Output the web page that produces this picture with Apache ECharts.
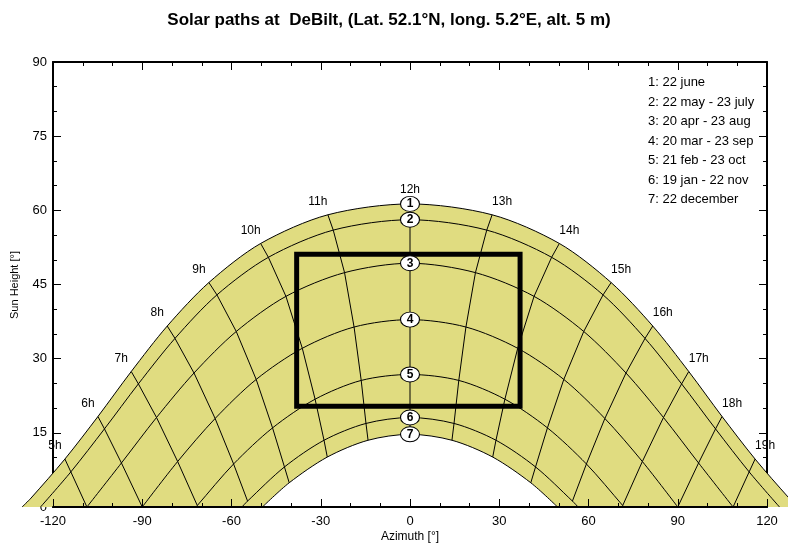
<!DOCTYPE html>
<html><head><meta charset="utf-8">
<script src="https://cdn.jsdelivr.net/npm/echarts@6/dist/echarts.min.js"></script>
<style>html,body{margin:0;padding:0;background:#fff}#c{width:788px;height:547px}</style>
</head><body><div id="c"></div>
<script>
// ---------- data (azimuth [°], sun height [°]) ----------
const titleText = 'Solar paths at  DeBilt, (Lat. 52.1°N, long. 5.2°E, alt. 5 m)';
const legendLines = ['1: 22 june','2: 22 may - 23 july','3: 20 apr - 23 aug','4: 20 mar - 23 sep','5: 21 feb - 23 oct','6: 19 jan - 22 nov','7: 22 december'];

const day1 = [[-130.4,0],[-127.4,1.8],[-116.0,9.7],[-104.9,18.3],[-93.7,27.4],[-81.6,36.6],[-67.6,45.4],[-50.2,53.3],[-27.6,59.1],[0,61.3],[27.6,59.1],[50.2,53.3],[67.6,45.4],[81.6,36.6],[93.7,27.4],[104.9,18.3],[116.0,9.7],[127.4,1.8],[130.4,0]];
const day2 = [[-124.2,0],[-114.0,7.1],[-102.7,15.8],[-91.3,24.9],[-79.0,34.1],[-64.9,42.9],[-47.6,50.5],[-25.8,56.0],[0,58.1],[25.8,56.0],[47.6,50.5],[64.9,42.9],[79.0,34.1],[91.3,24.9],[102.7,15.8],[114.0,7.1],[124.2,0]];
const day3 = [[-108.6,0],[-97.0,8.9],[-85.2,18.1],[-72.6,27.1],[-58.4,35.5],[-41.7,42.6],[-22.0,47.4],[0,49.3],[22.0,47.4],[41.7,42.6],[58.4,35.5],[72.6,27.1],[85.2,18.1],[97.0,8.9],[108.6,0]];
const day4 = [[-90,0],[-78.1,9.2],[-65.5,17.9],[-51.7,25.8],[-36.2,32.1],[-18.8,36.4],[0,37.9],[18.8,36.4],[36.2,32.1],[51.7,25.8],[65.5,17.9],[78.1,9.2],[90,0]];
const day5 = [[-71.9,0],[-71.5,0.3],[-59.3,8.7],[-46.2,16.0],[-31.9,21.8],[-16.4,25.6],[0,26.8],[16.4,25.6],[31.9,21.8],[46.2,16.0],[59.3,8.7],[71.5,0.3],[71.9,0]];
const day6 = [[-56.5,0],[-54.6,1.2],[-42.2,8.1],[-28.9,13.5],[-14.8,16.9],[0,18.1],[14.8,16.9],[28.9,13.5],[42.2,8.1],[54.6,1.2],[56.5,0]];
const day7 = [[-49.6,0],[-40.6,4.9],[-27.8,10.1],[-14.1,13.5],[0,14.7],[14.1,13.5],[27.8,10.1],[40.6,4.9],[49.6,0]];

const hourLabels = ['5h','6h','7h','8h','9h','10h','11h','12h','13h','14h','15h','16h','17h','18h','19h'];
const h5  = [[-116.0,9.7],[-114.0,7.1],[-108.6,0]];
const h6  = [[-104.9,18.3],[-102.7,15.8],[-97.0,8.9],[-90,0]];
const h7  = [[-93.7,27.4],[-91.3,24.9],[-85.2,18.1],[-78.1,9.2],[-71.5,0.3]];
const h8  = [[-81.6,36.6],[-79.0,34.1],[-72.6,27.1],[-65.5,17.9],[-59.3,8.7],[-54.6,1.2]];
const h9  = [[-67.6,45.4],[-64.9,42.9],[-58.4,35.5],[-51.7,25.8],[-46.2,16.0],[-42.2,8.1],[-40.6,4.9]];
const h10 = [[-50.2,53.3],[-47.6,50.5],[-41.7,42.6],[-36.2,32.1],[-31.9,21.8],[-28.9,13.5],[-27.8,10.1]];
const h11 = [[-27.6,59.1],[-25.8,56.0],[-22.0,47.4],[-18.8,36.4],[-16.4,25.6],[-14.8,16.9],[-14.1,13.5]];
const h12 = [[0,61.3],[0,58.1],[0,49.3],[0,37.9],[0,26.8],[0,18.1],[0,14.7]];
const h13 = [[27.6,59.1],[25.8,56.0],[22.0,47.4],[18.8,36.4],[16.4,25.6],[14.8,16.9],[14.1,13.5]];
const h14 = [[50.2,53.3],[47.6,50.5],[41.7,42.6],[36.2,32.1],[31.9,21.8],[28.9,13.5],[27.8,10.1]];
const h15 = [[67.6,45.4],[64.9,42.9],[58.4,35.5],[51.7,25.8],[46.2,16.0],[42.2,8.1],[40.6,4.9]];
const h16 = [[81.6,36.6],[79.0,34.1],[72.6,27.1],[65.5,17.9],[59.3,8.7],[54.6,1.2]];
const h17 = [[93.7,27.4],[91.3,24.9],[85.2,18.1],[78.1,9.2],[71.5,0.3]];
const h18 = [[104.9,18.3],[102.7,15.8],[97.0,8.9],[90,0]];
const h19 = [[116.0,9.7],[114.0,7.1],[108.6,0]];

const dayNumbers = ['1','2','3','4','5','6','7'];
const noonAlt = [61.3,58.1,49.3,37.9,26.8,18.1,14.7];

const boxAz = [-38.1, 37.0];
const boxAlt = [20.4, 51.1];

// ---------- chart ----------
const days = [day1,day2,day3,day4,day5,day6,day7];
const hours = [h5,h6,h7,h8,h9,h10,h11,h12,h13,h14,h15,h16,h17,h18,h19];
const FONT = 'Arial, "Liberation Sans", sans-serif';
const YELLOW = '#e0dc80';
const SM = 0.3;
const D = {xAxisIndex:2, yAxisIndex:2};

const series = [];
series.push(Object.assign({type:'line', data:day1, symbol:'none', silent:true, z:1, smooth:SM,
  lineStyle:{width:0}, areaStyle:{color:YELLOW, opacity:1}}, D));
series.push(Object.assign({type:'line', data:day7, symbol:'none', silent:true, z:2, smooth:SM,
  lineStyle:{width:0}, areaStyle:{color:'#ffffff', opacity:1}}, D));
days.forEach(d => series.push(Object.assign({type:'line', data:d, symbol:'none', silent:true, z:3, smooth:SM,
  lineStyle:{color:'#000', width:1}}, D)));
hours.forEach(h => series.push(Object.assign({type:'line', data:h, symbol:'none', silent:true, z:3,
  lineStyle:{color:'#000', width:1}}, D)));
// box
series.push(Object.assign({type:'line', silent:true, symbol:'none', z:4,
  data:[[boxAz[0],boxAlt[0]],[boxAz[1],boxAlt[0]],[boxAz[1],boxAlt[1]],[boxAz[0],boxAlt[1]],[boxAz[0],boxAlt[0]]],
  lineStyle:{color:'#000', width:5, join:'miter', cap:'square'}}, D));
// hour labels
series.push(Object.assign({type:'scatter', silent:true, z:5, symbolSize:0,
  itemStyle:{color:'#000'},
  data: hours.map((h,i) => ({value:h[0], label:{
    show:true, formatter:hourLabels[i], position:'top', distance:0,
    offset:[h[0][0] < 0 ? -10 : (h[0][0] > 0 ? 10 : 0), h[0][0] === 0 ? -8 : -7],
    color:'#000', opacity:1, fontSize:12, fontFamily:FONT, textBorderWidth:0}}))}, D));
// noon circles
series.push(Object.assign({type:'scatter', silent:true, z:6, symbol:'circle', symbolSize:[19,15],
  itemStyle:{color:'#fff', borderColor:'#000', borderWidth:1, opacity:1},
  label:{show:true, position:'inside', color:'#000', fontSize:12, fontWeight:'bold', fontFamily:FONT,
    formatter: p => dayNumbers[p.dataIndex]},
  data: noonAlt.map(a => [0, a])}, D));

const tickStyle = {
  axisLine:{show:true, onZero:false, lineStyle:{color:'#000', width:2}},
  axisTick:{show:true, inside:true, length:8, lineStyle:{color:'#000', width:1}},
  minorTick:{show:true, splitNumber:3, length:4, lineStyle:{color:'#000', width:1}},
  splitLine:{show:false}, minorSplitLine:{show:false}
};
const hidden = {show:false, axisLine:{show:false}, axisTick:{show:false}, axisLabel:{show:false}, splitLine:{show:false}};

const option = {
  animation:false,
  backgroundColor:'#fff',
  grid:[
    {left:53, right:21, top:62, bottom:40},
    {left:17.3, right:0.175, top:62, bottom:40}
  ],
  xAxis:[
    Object.assign({type:'value', gridIndex:0, position:'bottom', z:10, min:-120, max:120, interval:30,
      axisLabel:{show:true, color:'#000', fontSize:13, fontFamily:FONT, margin:8}}, tickStyle),
    Object.assign({type:'value', gridIndex:0, position:'top', z:0, min:-120, max:120, interval:30, axisLabel:{show:false}}, tickStyle),
    Object.assign({type:'value', gridIndex:1, min:-132, max:127}, hidden)
  ],
  yAxis:[
    Object.assign({type:'value', gridIndex:0, position:'left', z:0, min:0, max:90, interval:15,
      axisLabel:{show:true, color:'#000', fontSize:13, fontFamily:FONT, margin:6}}, tickStyle),
    Object.assign({type:'value', gridIndex:0, position:'right', z:0, min:0, max:90, interval:15, axisLabel:{show:false}}, tickStyle),
    Object.assign({type:'value', gridIndex:1, min:0, max:90}, hidden)
  ],
  graphic:[
    {type:'text', x:389, y:20, style:{text:titleText, fill:'#000', font:'bold 17px '+FONT, align:'center', verticalAlign:'middle'}},
    {type:'text', x:410, y:537, style:{text:'Azimuth [°]', fill:'#000', font:'12px '+FONT, align:'center', verticalAlign:'middle'}},
    {type:'text', x:15, y:285, rotation:Math.PI/2, style:{text:'Sun Height [°]', fill:'#000', font:'11px '+FONT, align:'center', verticalAlign:'middle'}},
    {type:'text', x:648, y:73, style:{text:legendLines.join('\n'), fill:'#000', font:'13px '+FONT, lineHeight:19.5}}
  ],
  series: series
};
const chart = echarts.init(document.getElementById('c'), null, {renderer:'canvas'});
chart.setOption(option);
</script></body></html>
